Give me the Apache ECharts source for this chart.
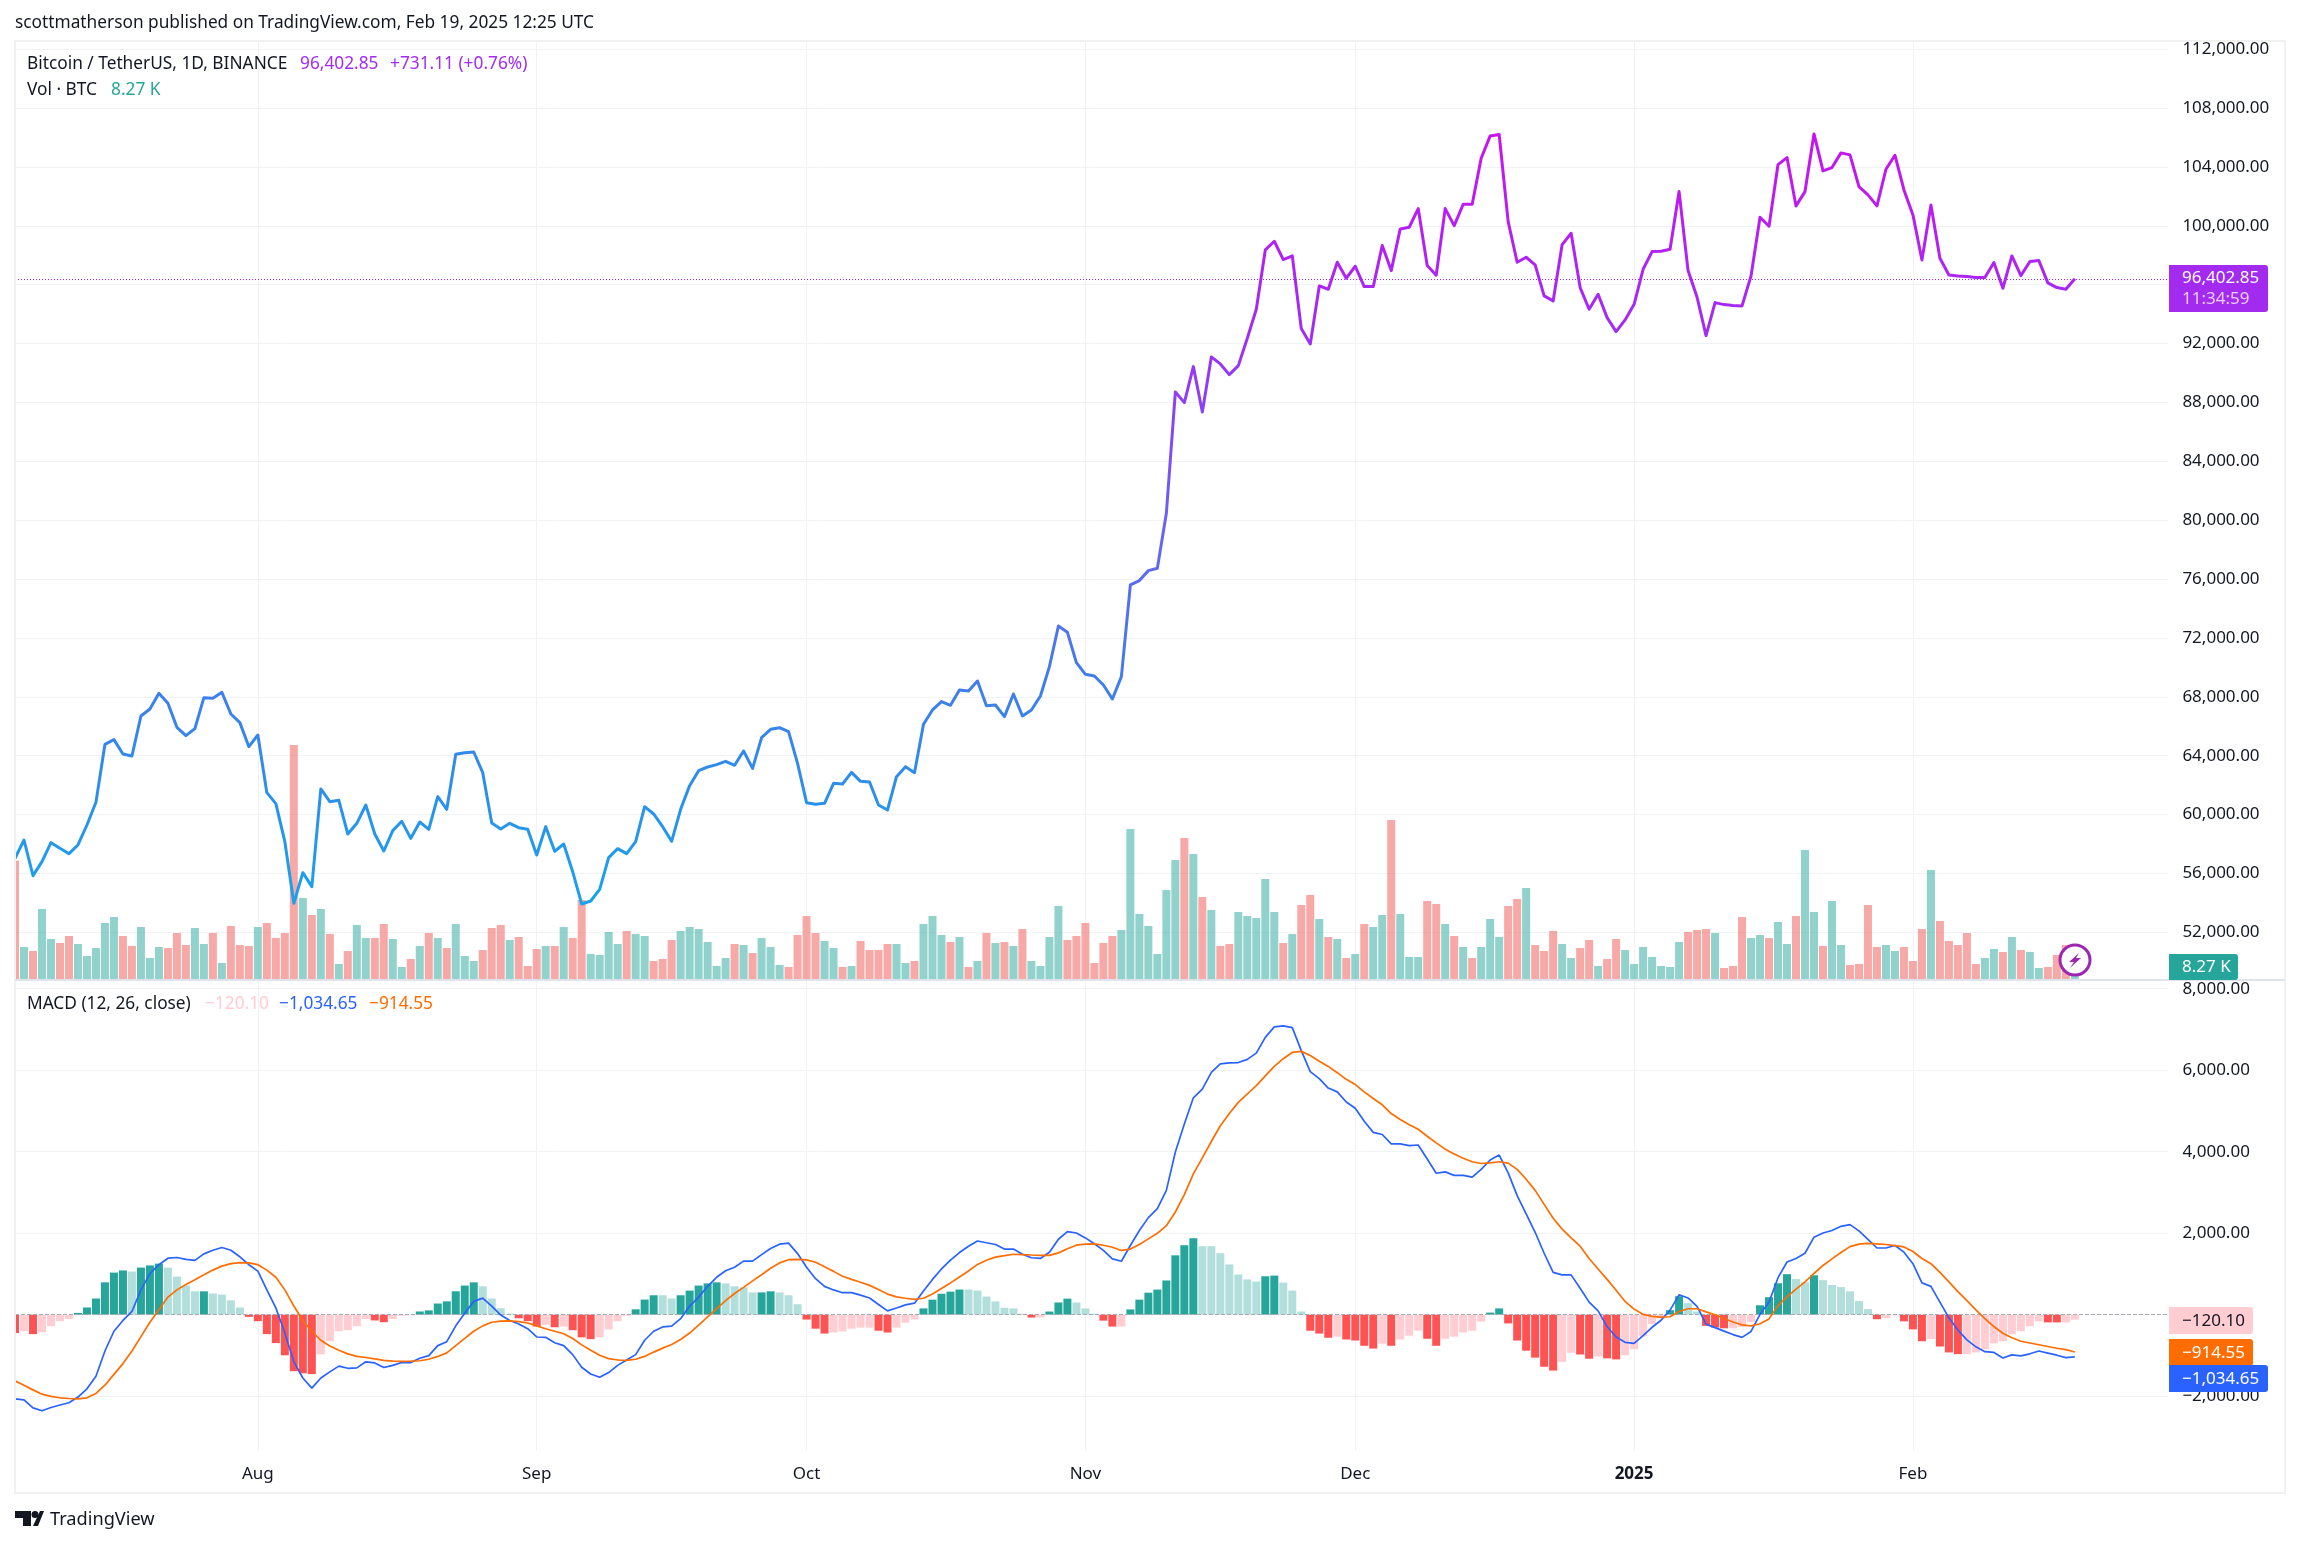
<!DOCTYPE html>
<html>
<head>
<meta charset="utf-8">
<title>BTCUSDT 1D</title>
<script src="https://cdn.jsdelivr.net/npm/echarts@6/dist/echarts.min.js"></script>
<style>
	html,body{margin:0;padding:0;background:#fff;}
	#chart{width:2301px;height:1546px;}
</style>
</head>
<body>
<div id="chart"></div>
<script>
var firstDay = '2024-07-05';
var monthTicks = ['2024-08-01','2024-09-01','2024-10-01','2024-11-01','2024-12-01','2025-01-01','2025-02-01'];
var monthLabels = ['Aug','Sep','Oct','Nov','Dec','2025','Feb'];
var priceTicks = [112000,108000,104000,100000,96000,92000,88000,84000,80000,76000,72000,68000,64000,60000,56000,52000];
var macdTicks = [8000,6000,4000,2000,-2000];

//close, one value a day from firstDay
var closes = [
	57026,58272,55848,56800,58091,57706,57343,57933,59291,60832,
	64773,65090,64116,63980,66698,67173,68238,67559,65928,65361,
	65837,67944,67898,68306,66834,66245,64614,65407,61488,60741,
	58159,53968,56052,55101,61738,60877,60968,58680,59405,60650,
	58680,57525,58906,59540,58385,59495,58997,61217,60356,64093,
	64206,64252,62847,59427,59020,59405,59110,58997,57253,59178,
	57502,58000,56120,53923,54127,54920,57071,57683,57343,58159,
	60537,60039,59178,58181,60356,61964,62983,63232,63391,63617,
	63346,64320,63142,65226,65792,65905,65633,63482,60809,60696,
	60764,62122,62077,62870,62258,62213,60650,60310,62575,63255,
	62847,66132,67106,67672,67423,68465,68397,69076,67400,67445,
	66653,68193,66698,67106,68057,70050,72813,72383,70322,69529,
	69416,68804,67853,69370,75599,75900,76573,76732,80469,88714,
	87989,90435,87355,91092,90616,89891,90503,92360,94331,98363,
	98951,97706,97955,93017,91975,95916,95690,97524,96437,97253,
	95871,95871,98657,96958,99789,99903,101171,97298,96641,101171,
	100016,101466,101466,104591,106109,106199,100288,97525,97864,97343,
	95237,94897,98725,99495,95803,94331,95350,93765,92813,93606,
	94671,97049,98249,98272,98408,102326,96958,95146,92542,94784,
	94648,94580,94558,96596,100582,99971,104161,104637,101352,102326,
	106245,103731,103957,104954,104818,102666,102100,101352,103844,104795,
	102440,100741,97683,101420,97796,96664,96596,96551,96483,96483,
	97502,95758,97955,96619,97570,97638,96120,95803,95690,96402.85
];

//volume in thousand BTC
var volumes = [
	107.4,29.7,26.1,63.9,36.9,33.3,39.6,32.4,21.6,28.8,
	51.3,56.7,39.6,30.6,47.7,19.8,29.7,28.8,42.3,31.5,
	46.8,32.4,42.3,15.3,48.6,31.5,30.6,47.7,51.3,37.8,
	42.3,211.5,73.8,58.5,63.9,41.4,14.4,26.1,49.5,37.8,
	37.8,50.4,36.9,11.7,18.9,30.6,42.3,37.8,28.8,50.4,
	21.6,17.1,27,46.8,49.5,36,38.7,12.6,27.9,30.6,
	30.6,47.7,37.8,72,23.4,22.5,43.2,32.4,44.1,41.4,
	39.6,17.1,18.9,36,44.1,47.7,45.9,34.2,12.6,19.8,
	32.4,31.5,24.3,37.8,29.7,13.5,11.7,40.5,57.6,42.3,
	35.1,28.8,11.7,12.6,35.1,27,27,32.4,32.4,15.3,
	17.1,50.4,57.6,40.5,34.2,38.7,11.7,17.1,42.3,33.3,
	34.2,30.6,45.9,17.1,12.6,38.7,66.6,36,39.6,51.3,
	15.3,33.3,39.6,45,135.9,59.4,48.6,23.4,81,108,
	127.8,113.4,74.7,63,30.6,32.4,61.2,57.6,55.8,90.9,
	61.2,33.3,41.4,67.5,76.5,54.9,38.7,36.9,19.8,23.4,
	50.4,47.7,58.5,144,59.4,20.7,20.7,71.1,68.4,50.4,
	39.6,29.7,19.8,29.7,54.9,38.7,66.6,72.9,82.8,31.5,
	26.1,44.1,32.4,19.8,28.8,36,12.6,18.9,36.9,27,
	14.4,29.7,20.7,12.6,11.7,34.2,43.2,45,45.9,42.3,
	10.8,12.6,56.7,37.8,40.5,37.8,52.2,32.4,57.6,117,
	61.2,30.6,71.1,31.5,13.5,14.4,67.5,29.7,31.5,26.1,
	29.7,17.1,45.9,99,53.1,35.1,31.5,42.3,14.4,19.8,
	27.9,25.2,38.7,27,25.2,10.8,11.7,22.5,31.5,8.27
];
//u up day, d down day
var volumeDirs = [
	'duduudduuu','uudduuuddd','uududddudd','ddudududuu','dduudududu',
	'uudddudddu','dudduuuudu','uddduuuuuu','duduuudddd','uududddduu',
	'duuudududu','duduuuuddd','ddduuuuuuu','dududduuuu','ududdududu',
	'duuduuuddu','duduuuddud','dduudduddu','uuuuuudddu','ddduuduudu',
	'uduudddduu','dddudddddu','ududuudddu'
].join('');

var macdLine = [
	-2065,-2092,-2286,-2357,-2277,-2215,-2162,-2021,-1818,-1509,
	-891,-406,-141,79,609,1006,1227,1386,1403,1359,
	1333,1492,1580,1650,1580,1421,1227,1068,609,168,
	-450,-1156,-1553,-1801,-1553,-1403,-1262,-1315,-1306,-1156,
	-1183,-1297,-1244,-1174,-1174,-1068,-1006,-759,-662,-274,
	35,327,406,212,-9,-141,-229,-344,-547,-556,
	-688,-759,-980,-1289,-1456,-1536,-1421,-1244,-1112,-980,
	-627,-406,-300,-282,-97,212,432,697,918,1077,
	1165,1315,1315,1474,1624,1730,1756,1500,1166,883,
	694,608,540,540,480,411,249,94,163,240,
	283,583,866,1123,1337,1525,1680,1808,1765,1723,
	1611,1611,1483,1397,1380,1534,1851,2040,2005,1885,
	1740,1577,1371,1311,1697,2065,2382,2605,3051,3994,
	4679,5322,5536,5948,6153,6179,6188,6265,6419,6805,
	7062,7087,7045,6479,5965,5793,5562,5468,5219,5065,
	4748,4474,4422,4191,4191,4148,4165,3822,3471,3505,
	3419,3419,3377,3565,3797,3916,3479,2922,2477,2023,
	1508,1037,977,977,651,309,94,-291,-548,-677,
	-703,-514,-309,-137,111,488,411,206,-231,-317,
	-403,-488,-557,-411,9,309,908,1294,1380,1508,
	1903,2005,2065,2168,2211,2057,1851,1637,1637,1697,
	1534,1251,780,694,309,-77,-377,-617,-788,-908,
	-926,-1063,-986,-1011,-960,-891,-943,-994,-1054,-1034.65
];
var signalLine = [
	-1624,-1730,-1845,-1951,-2004,-2039,-2056,-2065,-2039,-1933,
	-1730,-1465,-1200,-891,-538,-185,124,432,609,741,
	856,980,1094,1192,1253,1280,1271,1227,1094,918,
	609,212,-141,-406,-627,-768,-874,-962,-1024,-1050,
	-1086,-1121,-1139,-1147,-1139,-1130,-1094,-1024,-936,-759,
	-583,-406,-274,-185,-159,-150,-168,-203,-274,-344,
	-406,-468,-583,-741,-874,-997,-1077,-1112,-1121,-1094,
	-1024,-918,-821,-733,-609,-450,-256,-53,150,344,
	521,671,830,980,1139,1271,1350,1359,1345,1286,
	1174,1063,943,866,797,720,617,506,437,403,
	377,403,506,643,780,926,1071,1234,1337,1414,
	1448,1483,1474,1465,1457,1457,1517,1620,1705,1731,
	1740,1705,1654,1577,1611,1723,1860,1997,2185,2520,
	2948,3454,3848,4251,4636,4936,5211,5416,5622,5862,
	6093,6282,6436,6462,6359,6222,6093,5939,5776,5648,
	5468,5305,5151,4936,4791,4662,4551,4379,4216,4062,
	3942,3839,3754,3711,3728,3754,3719,3565,3325,3051,
	2708,2365,2100,1885,1680,1380,1123,866,600,326,
	137,9,-43,-60,-51,77,146,146,69,0,
	-94,-180,-249,-274,-223,-103,223,437,626,806,
	1011,1208,1371,1525,1671,1731,1748,1740,1723,1697,
	1663,1551,1380,1251,1037,806,566,343,120,-94,
	-291,-454,-566,-651,-694,-737,-780,-823,-857,-914.55
];
var histogram = [
	-450,-406,-477,-432,-282,-159,-106,44,177,397,
	794,1033,1086,1059,1156,1209,1253,1156,936,715,
	574,574,521,494,353,177,-53,-159,-477,-697,
	-997,-1386,-1439,-1456,-971,-653,-406,-380,-282,-106,
	-141,-185,-106,-26,-18,79,106,274,327,574,
	715,794,697,397,159,26,-88,-159,-291,-247,
	-309,-291,-380,-556,-600,-556,-362,-159,-26,132,
	371,477,477,397,477,591,715,768,794,768,
	697,671,547,547,574,547,477,256,-120,-343,
	-463,-437,-411,-343,-317,-317,-394,-437,-317,-197,
	-120,154,369,514,566,617,617,591,446,326,
	171,154,26,-69,-69,77,300,394,300,154,
	26,-146,-291,-291,129,369,540,617,840,1457,
	1705,1877,1680,1680,1508,1234,986,866,814,943,
	960,788,591,77,-394,-463,-566,-540,-608,-634,
	-763,-831,-711,-763,-608,-514,-394,-591,-763,-591,
	-540,-437,-394,-171,51,154,-214,-634,-883,-1054,
	-1277,-1371,-1157,-934,-977,-1080,-1028,-1071,-1097,-994,
	-848,-531,-231,-94,111,454,283,77,-274,-317,
	-334,-334,-300,-180,231,429,771,994,874,797,
	968,848,728,677,574,334,137,-111,-86,-17,
	-163,-360,-651,-600,-780,-926,-968,-968,-926,-848,
	-703,-651,-480,-403,-283,-163,-189,-189,-189,-120.10
];
//G growing above zero, g falling above zero, R growing below zero, r falling below zero
var histShades = [
	'RrRrrrrGGG','GGGgGGGggg','gGggggRRRR','RRRRrrrrrr','RRrrrGGGGG',
	'GGggggRRRr','RrRRRrrrrG','GGggGGGGGg','gggGGgggRR','RrrrrrRRrr',
	'rGGGGGgggg','gggRrGGGgg','gRRrGGGGGG','GGgggggggG','GgggRRRrRR',
	'RRrRrrrRRr','rrrrGGRRRR','RRrrRRrRRr','rrrrGGggRR','RrrrGGGGgg',
	'GggggggRrr','RRRrRRRrrr','rrrrrrRRrr'
].join('');

var lastClose = 96402.85;
var shadeColors = {G:'#26a69a',g:'#b2dfdb',R:'#ff5252',r:'#ffcdd2'};
var dirColors = {u:'rgba(38,166,154,0.5)',d:'rgba(239,83,80,0.5)'};
var gridColor = '#f1f2f3';
var font = '"Noto Sans"';

//x is the day number counted from firstDay
function dayNumber(s){
	return Math.round((Date.parse(s)-Date.parse(firstDay))/86400000);
}
function pairs(values){
	return values.map(function(v,i){return [i,v];});
}
var monthDays = monthTicks.map(dayNumber);

function money(v){
	return (v<0?'\u2212':'')+Math.abs(v).toLocaleString('en-US',{minimumFractionDigits:2,maximumFractionDigits:2});
}
function xAxisFor(gridIndex,withLabels){
	return {
		type:'value',
		gridIndex:gridIndex,
		min:0,
		max:239.4,
		axisLine:{show:false},
		axisTick:{show:false,customValues:monthDays},
		splitLine:{show:true,lineStyle:{color:gridColor,width:1}},
		axisLabel:{
			show:withLabels,
			customValues:monthDays,
			margin:14.5,
			color:'#131722',
			fontFamily:font,
			fontSize:17,
			formatter:function(v){
				var t = monthLabels[monthDays.indexOf(v)];
				return t==='2025' ? '{year|2025}' : t;
			},
			rich:{year:{fontWeight:'bold',fontSize:17,fontFamily:font,color:'#131722'}}
		}
	};
}
function yAxisFor(gridIndex,min,max,ticks){
	return {
		type:'value',
		gridIndex:gridIndex,
		position:'right',
		min:min,
		max:max,
		axisLine:{show:false},
		axisTick:{show:false,customValues:ticks},
		splitLine:{show:true,lineStyle:{color:gridColor,width:1}},
		axisLabel:{
			customValues:ticks,
			margin:14,
			align:'left',
			color:'#131722',
			fontFamily:font,
			fontSize:17,
			formatter:money
		}
	};
}
function txt(x,y,text,fill,size,weight){
	return {type:'text',x:x,y:y,z:50,style:{
		text:text,fill:fill,font:(weight||'normal')+' '+(size||17.3)+'px '+font,textVerticalAlign:'middle'
	}};
}
function tag(y,h,w,fill){
	return {type:'rect',z:40,shape:{x:2169,y:y,width:w,height:h,r:[0,3,3,0]},style:{fill:fill}};
}

var chart = echarts.init(document.getElementById('chart'));
chart.setOption({
	animation:false,
	backgroundColor:'#fff',
	grid:[
		{left:15,right:132.6,top:41,bottom:566},
		{left:15,right:132.6,top:981,bottom:95}
	],
	xAxis:[xAxisFor(0,false),xAxisFor(1,true)],
	yAxis:[
		yAxisFor(0,48760,112557,priceTicks),
		{type:'value',gridIndex:0,min:0,max:845,show:false,splitLine:{show:false}},
		yAxisFor(1,-3345,8189,macdTicks)
	],
	series:[
		{
			name:'Vol',type:'bar',xAxisIndex:0,yAxisIndex:1,silent:true,barWidth:8,
			data:pairs(volumes),
			itemStyle:{color:function(p){return dirColors[volumeDirs.charAt(p.dataIndex)];}}
		},
		{
			name:'BTCUSDT',type:'line',xAxisIndex:0,yAxisIndex:0,silent:true,showSymbol:false,z:5,
			data:pairs(closes),
			lineStyle:{width:3,join:'round',color:new echarts.graphic.LinearGradient(0,0,0,1,[
				{offset:0,color:'#c913ef'},
				{offset:0.25,color:'#a32bf5'},
				{offset:0.5,color:'#6a62f2'},
				{offset:0.75,color:'#3a82ea'},
				{offset:1,color:'#18a3eb'}
			])},
			markLine:{
				silent:true,symbol:'none',label:{show:false},
				lineStyle:{color:'#a32bf5',type:[1,2],width:1},
				data:[{yAxis:lastClose}]
			}
		},
		{
			name:'Histogram',type:'bar',xAxisIndex:1,yAxisIndex:2,silent:true,barWidth:8,
			data:pairs(histogram),
			itemStyle:{color:function(p){return shadeColors[histShades.charAt(p.dataIndex)];}},
			markLine:{
				silent:true,symbol:'none',label:{show:false},
				lineStyle:{color:'#a9abb2',type:'dashed',width:1},
				data:[{yAxis:0}]
			}
		},
		{
			name:'MACD',type:'line',xAxisIndex:1,yAxisIndex:2,silent:true,showSymbol:false,z:5,
			data:pairs(macdLine),
			lineStyle:{color:'#2962ff',width:1.7}
		},
		{
			name:'Signal',type:'line',xAxisIndex:1,yAxisIndex:2,silent:true,showSymbol:false,z:6,
			data:pairs(signalLine),
			lineStyle:{color:'#ff6d00',width:1.7}
		}
	],
	graphic:{elements:[
		//the first bar is cut at the frame, so mask what hangs over the left edge
		{type:'rect',z:30,shape:{x:0,y:42,width:15,height:1450},style:{fill:'#ffffff'}},
		//frame and pane separator
		{type:'rect',z:31,shape:{x:15,y:41,width:2270,height:1452},style:{fill:'none',stroke:'#f1f1f1',lineWidth:2}},
		{type:'line',z:32,shape:{x1:15,y1:980,x2:2285,y2:980},style:{stroke:'#e0e3eb',lineWidth:2}},
		//header and legends
		txt(15,23,'scottmatherson published on TradingView.com, Feb 19, 2025 12:25 UTC','#131722'),
		txt(27,64,'Bitcoin / TetherUS, 1D, BINANCE','#131722'),
		txt(300,64,'96,402.85','#a32bf5'),
		txt(390,64,'+731.11 (+0.76%)','#a32bf5'),
		txt(27,90,'Vol \u00b7 BTC','#131722'),
		txt(111,90,'8.27 K','#26a69a'),
		txt(27,1004,'MACD (12, 26, close)','#131722'),
		txt(205,1004,'\u2212120.10','#ffcdd2'),
		txt(279,1004,'\u22121,034.65','#2962ff'),
		txt(369,1004,'\u2212914.55','#ff6d00'),
		//last value tags
		tag(265,47,99,'#a32bf0'),
		txt(2182,278,'96,402.85','#ffffff',17),
		txt(2182,299,'11:34:59','#e9cdfb',17),
		tag(954,26,69,'#26a69a'),
		txt(2182,967,'8.27 K','#ffffff',17),
		tag(1307,27,84,'#ffcdd2'),
		txt(2182,1321,'\u2212120.10','#131722',17),
		tag(1339,27,84,'#ff6d00'),
		txt(2182,1353,'\u2212914.55','#ffffff',17),
		tag(1365,27,99,'#2962ff'),
		txt(2182,1379,'\u22121,034.65','#ffffff',17),
		//lightning badge
		{type:'circle',z:45,shape:{cx:2075,cy:960,r:15},style:{fill:'#ffffff',stroke:'#9c27b0',lineWidth:3}},
		{type:'polygon',z:46,shape:{points:[[2079,953],[2069,962],[2074,962],[2070,968],[2081,958],[2076,958]]},style:{fill:'#9c27b0'}},
		//logo
		{type:'polygon',z:46,shape:{points:[[15,1511],[31,1511],[31,1526],[23,1526],[23,1518],[15,1518]]},style:{fill:'#131722'}},
		{type:'circle',z:46,shape:{cx:35,cy:1514.5,r:3.5},style:{fill:'#131722'}},
		{type:'polygon',z:46,shape:{points:[[33,1526],[40,1511],[44,1511],[38,1526]]},style:{fill:'#131722'}},
		txt(50,1520,'TradingView','#131722',18.2)
	]}
});
</script>
</body>
</html>
